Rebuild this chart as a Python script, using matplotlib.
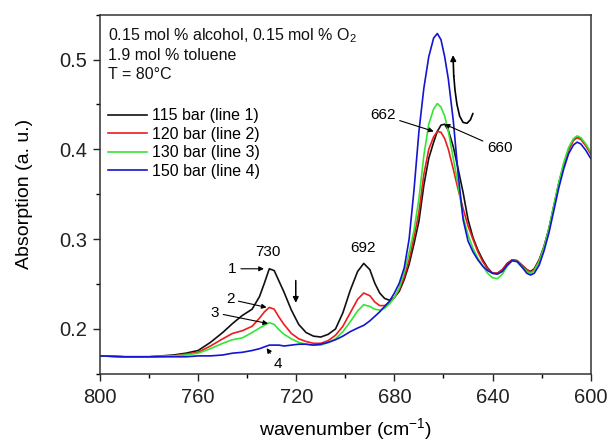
import matplotlib
matplotlib.use("Agg")
import matplotlib.pyplot as plt
from matplotlib.ticker import MultipleLocator

plt.rcParams["font.family"] = ["Liberation Sans", "DejaVu Sans"]
plt.rcParams["mathtext.fontset"] = "custom"
plt.rcParams["mathtext.rm"] = "Liberation Sans"

# ---- data ----
wavenumber = [800, 790, 780, 770, 765, 760, 755, 750, 746, 742, 738, 735, 733, 731,
              729, 727, 725, 722, 719, 716, 713, 710, 707, 704, 701, 698, 695, 692.5,
              690, 688, 686, 684, 682, 680, 678, 676, 674, 672, 670, 668, 666, 664,
              662.5, 661, 659.5, 658, 656, 654, 652, 650, 648, 646, 644, 642, 640,
              638, 636, 634, 632, 630, 628, 626, 624.5, 623, 621, 619, 617, 615, 613,
              611, 609, 607, 605.5, 604, 602, 600]

line1_115bar = [0.170, 0.169, 0.169, 0.171, 0.173, 0.176, 0.185, 0.196, 0.206, 0.215,
                0.222, 0.236, 0.251, 0.267, 0.265, 0.253, 0.241, 0.221, 0.205, 0.196,
                0.192, 0.191, 0.194, 0.200, 0.218, 0.243, 0.264, 0.273, 0.266, 0.251,
                0.240, 0.234, 0.232, 0.235, 0.242, 0.255, 0.272, 0.295, 0.320, 0.360,
                0.390, 0.408, 0.420, 0.427, 0.428, 0.421, 0.403, 0.378, 0.352, 0.322,
                0.302, 0.288, 0.277, 0.268, 0.262, 0.262, 0.266, 0.273, 0.277, 0.276,
                0.271, 0.266, 0.264, 0.267, 0.277, 0.292, 0.312, 0.337, 0.362, 0.383,
                0.400, 0.411, 0.414, 0.412, 0.405, 0.396]

line2_120bar = [0.170, 0.169, 0.169, 0.170, 0.172, 0.174, 0.181, 0.189, 0.195, 0.198,
                0.203, 0.212, 0.219, 0.224, 0.222, 0.213, 0.205, 0.195, 0.189, 0.186,
                0.184, 0.184, 0.187, 0.193, 0.203, 0.218, 0.233, 0.240, 0.237, 0.230,
                0.226, 0.226, 0.229, 0.235, 0.244, 0.258, 0.277, 0.302, 0.330, 0.372,
                0.400, 0.414, 0.420, 0.419, 0.412, 0.400, 0.378, 0.355, 0.334, 0.315,
                0.300, 0.286, 0.275, 0.267, 0.262, 0.262, 0.266, 0.272, 0.277, 0.276,
                0.271, 0.266, 0.263, 0.266, 0.276, 0.291, 0.311, 0.336, 0.361, 0.382,
                0.399, 0.410, 0.413, 0.411, 0.404, 0.395]

line3_130bar = [0.170, 0.169, 0.169, 0.170, 0.171, 0.173, 0.178, 0.184, 0.188, 0.190,
                0.196, 0.201, 0.204, 0.207, 0.205, 0.199, 0.194, 0.189, 0.185, 0.183,
                0.182, 0.182, 0.185, 0.189, 0.197, 0.208, 0.220, 0.227, 0.225, 0.222,
                0.221, 0.223, 0.228, 0.235, 0.246, 0.263, 0.285, 0.310, 0.345, 0.393,
                0.428, 0.445, 0.451, 0.447, 0.437, 0.420, 0.390, 0.360, 0.325, 0.305,
                0.290, 0.279, 0.270, 0.262, 0.257, 0.256, 0.261, 0.270, 0.276, 0.275,
                0.269, 0.264, 0.262, 0.265, 0.275, 0.291, 0.312, 0.338, 0.363, 0.385,
                0.402, 0.412, 0.415, 0.413, 0.406, 0.397]

line4_150bar = [0.170, 0.169, 0.169, 0.169, 0.169, 0.170, 0.170, 0.171, 0.173, 0.174,
                0.176, 0.178, 0.180, 0.182, 0.182, 0.182, 0.181, 0.182, 0.183, 0.183,
                0.182, 0.183, 0.185, 0.188, 0.192, 0.197, 0.201, 0.204, 0.209, 0.214,
                0.219, 0.225, 0.231, 0.240, 0.251, 0.268, 0.300, 0.355, 0.420, 0.468,
                0.503, 0.524, 0.529, 0.522, 0.503, 0.478, 0.432, 0.372, 0.322, 0.298,
                0.286, 0.277, 0.270, 0.265, 0.262, 0.261, 0.264, 0.271, 0.276, 0.275,
                0.269, 0.262, 0.260, 0.262, 0.271, 0.287, 0.307, 0.332, 0.357, 0.378,
                0.395, 0.405, 0.408, 0.406, 0.399, 0.390]

series = [
    (line1_115bar, "115 bar (line 1)", "#111111"),
    (line2_120bar, "120 bar (line 2)", "#ee1c1c"),
    (line3_130bar, "130 bar (line 3)", "#33e633"),
    (line4_150bar, "150 bar (line 4)", "#1414d2"),
]

fig = plt.figure(figsize=(6.11, 4.44), dpi=100)
ax = fig.add_axes([0.1637, 0.158, 0.803, 0.809])

for values, label, color in series:
    ax.plot(wavenumber, values, color=color, lw=1.2, label=label)

ax.set_xlim(800, 600)
ax.set_ylim(0.15, 0.55)
ax.xaxis.set_major_locator(MultipleLocator(40))
ax.xaxis.set_minor_locator(MultipleLocator(20))
ax.yaxis.set_minor_locator(MultipleLocator(0.05))
ax.set_yticks([0.2, 0.3, 0.4, 0.5])
ax.tick_params(which="major", direction="out", length=5, width=1, labelsize=14.5,
               pad=4, colors="#222222")
ax.tick_params(axis="x", which="major", pad=5)
ax.tick_params(which="minor", direction="out", length=3, width=1)
for s in ax.spines.values():
    s.set_linewidth(1.1)
    s.set_color("#333333")

ax.set_xlabel("wavenumber (cm$^{-1}$)", fontsize=14, labelpad=7)
ax.set_ylabel("Absorption (a. u.)", fontsize=14, labelpad=19)

# ---- header text ----
ax.text(0.016, 0.968, "0.15 mol % alcohol, 0.15 mol % O$_2$\n1.9 mol % toluene\nT = 80°C",
        transform=ax.transAxes, ha="left", va="top", fontsize=11.5,
        linespacing=1.3, color="#111111")

ax.legend(loc="upper left", bbox_to_anchor=(0.004, 0.757), frameon=False,
          fontsize=11.5, handlelength=2.4, handletextpad=0.35, labelspacing=0.22,
          borderaxespad=0)

# ---- peak labels and arrows ----
arr = dict(arrowstyle="-|>", color="k", lw=0.8, mutation_scale=7, shrinkA=1, shrinkB=0)
fs = 11
ax.text(731.4, 0.286, "730", ha="center", va="center", fontsize=fs)
ax.text(692.7, 0.290, "692", ha="center", va="center", fontsize=fs)
ax.annotate("1", xy=(733.2, 0.267), xytext=(746.0, 0.267), ha="center", va="center",
            fontsize=fs, arrowprops=arr)
ax.annotate("2", xy=(732.1, 0.224), xytext=(747.0, 0.233), ha="center", va="center",
            fontsize=fs, arrowprops=arr)
ax.annotate("3", xy=(731.5, 0.206), xytext=(753.2, 0.218), ha="center", va="center",
            fontsize=fs, arrowprops=arr)
ax.annotate("4", xy=(732.1, 0.1786), xytext=(727.4, 0.161), ha="center", va="center",
            fontsize=fs, arrowprops=arr)
ax.annotate("662", xy=(664.0, 0.420), xytext=(684.7, 0.438), ha="center", va="center",
            fontsize=fs, arrowprops=arr)
ax.annotate("660", xy=(659.5, 0.428), xytext=(637.1, 0.401), ha="center", va="center",
            fontsize=fs, arrowprops=arr)

# down arrow (730 band decreases)
ax.annotate("", xy=(720.2, 0.226), xytext=(720.2, 0.257),
            arrowprops=dict(arrowstyle="-|>", color="k", lw=1.1, mutation_scale=8))

# curved up arrow (660 band increases)
ax.plot([648.0, 649.0, 650.4, 652.0, 653.4, 654.5, 655.3, 655.8],
        [0.440, 0.433, 0.429, 0.430, 0.437, 0.450, 0.466, 0.482],
        color="k", lw=1.2, solid_capstyle="round")
ax.annotate("", xy=(656.1, 0.505), xytext=(655.8, 0.481),
            arrowprops=dict(arrowstyle="-|>", color="k", lw=1.2, mutation_scale=8,
                            shrinkA=0, shrinkB=0))

fig.savefig("out.png", dpi=100, facecolor="white")
